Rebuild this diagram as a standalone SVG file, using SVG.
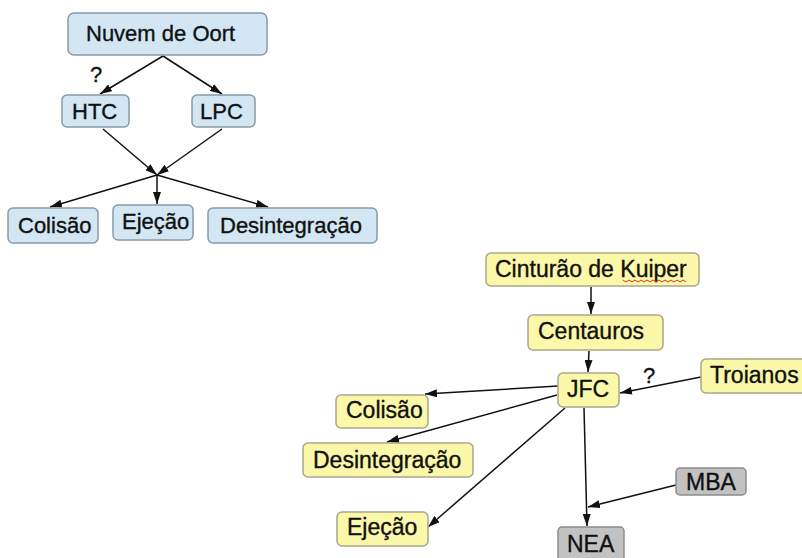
<svg xmlns="http://www.w3.org/2000/svg" width="802" height="558" viewBox="0 0 802 558">
<defs>
<marker id="ah" viewBox="0 0 12 8" refX="12" refY="4" markerWidth="12" markerHeight="8" markerUnits="userSpaceOnUse" orient="auto">
<path d="M0,0 L12,4 L0,8 Z" fill="#111"/>
</marker>
</defs>
<style>
.b{fill:#d2e7f3;stroke:#8a9aa4;stroke-width:1.5}
.y{fill:#fcf8a9;stroke:#a8a68a;stroke-width:1.5}
.g{fill:#c2c2c2;stroke:#8c8c8c;stroke-width:1.5}
text{font-family:"Liberation Sans",Arial,sans-serif;fill:#111;stroke:#111;stroke-width:0.35}
.t1{font-size:22px}
.t2{font-size:23px}
.c line,.c path{stroke:#111;stroke-width:1.5;fill:none}
</style>
<rect width="802" height="558" fill="#fff"/>
<g class="c">
<line x1="163" y1="56" x2="100" y2="94" marker-end="url(#ah)"/>
<line x1="163" y1="56" x2="222" y2="94" marker-end="url(#ah)"/>
<line x1="103" y1="129" x2="157" y2="175" marker-end="url(#ah)"/>
<line x1="222" y1="129" x2="157" y2="175" marker-end="url(#ah)"/>
<line x1="157" y1="175" x2="50" y2="207" marker-end="url(#ah)"/>
<line x1="157" y1="175" x2="157" y2="204" marker-end="url(#ah)"/>
<line x1="157" y1="175" x2="268" y2="207" marker-end="url(#ah)"/>
<line x1="591" y1="287" x2="591" y2="314" marker-end="url(#ah)"/>
<line x1="589" y1="351" x2="588" y2="372" marker-end="url(#ah)"/>
<line x1="701" y1="377" x2="620" y2="393" marker-end="url(#ah)"/>
<line x1="558" y1="386" x2="425" y2="394" marker-end="url(#ah)"/>
<line x1="557" y1="395" x2="387" y2="442" marker-end="url(#ah)"/>
<line x1="565" y1="408" x2="428" y2="527" marker-end="url(#ah)"/>
<line x1="584" y1="408" x2="587" y2="526" marker-end="url(#ah)"/>
<line x1="676" y1="485" x2="588" y2="507" marker-end="url(#ah)"/>
</g>
<text class="t1" x="90" y="82">?</text>
<text class="t1" x="643" y="383">?</text>
<g id="oort"><rect class="b" x="68" y="13" width="199" height="42" rx="6"/><text class="t1" x="86" y="41">Nuvem de Oort</text></g>
<g id="htc"><rect class="b" x="62" y="95" width="67" height="32" rx="5"/><text class="t1" x="72" y="119">HTC</text></g>
<g id="lpc"><rect class="b" x="192" y="95" width="63" height="32" rx="5"/><text class="t1" x="200" y="119">LPC</text></g>
<g id="colisao1"><rect class="b" x="8" y="208" width="90" height="35" rx="5"/><text class="t1" x="18" y="233">Colisão</text></g>
<g id="ejecao1"><rect class="b" x="113" y="205" width="80" height="35" rx="5"/><text class="t1" x="122" y="229">Ejeção</text></g>
<g id="desint1"><rect class="b" x="208" y="208" width="169" height="35" rx="5"/><text class="t1" x="220" y="233">Desintegração</text></g>
<g id="kuiper"><rect class="y" x="486" y="253" width="213" height="33" rx="5"/><text class="t2" x="495" y="277">Cinturão de Kuiper</text>
<path d="M623,280 l3,2 l3,-2 l3,2 l3,-2 l3,2 l3,-2 l3,2 l3,-2 l3,2 l3,-2 l3,2 l3,-2 l3,2 l3,-2 l3,2 l3,-2 l3,2 l3,-2 l3,2 l3,-2 l3,2" fill="none" stroke="#e03030" stroke-width="1"/></g>
<g id="centauros"><rect class="y" x="528" y="315" width="135" height="35" rx="5"/><text class="t2" x="538" y="339">Centauros</text></g>
<g id="jfc"><rect class="y" x="558" y="373" width="61" height="34" rx="5"/><text class="t2" x="567" y="397">JFC</text></g>
<g id="troianos"><rect class="y" x="701" y="359" width="110" height="34" rx="5"/><text class="t2" x="710" y="383">Troianos</text></g>
<g id="colisao2"><rect class="y" x="336" y="395" width="92" height="33" rx="5"/><text class="t2" x="346" y="418">Colisão</text></g>
<g id="desint2"><rect class="y" x="303" y="443" width="170" height="34" rx="5"/><text class="t2" x="313" y="468">Desintegração</text></g>
<g id="ejecao2"><rect class="y" x="337" y="512" width="91" height="34" rx="5"/><text class="t2" x="347" y="535">Ejeção</text></g>
<g id="mba"><rect class="g" x="676" y="468" width="70" height="27" rx="4"/><text class="t2" x="686" y="490">MBA</text></g>
<g id="nea"><rect class="g" x="558" y="527" width="66" height="40" rx="4"/><text class="t2" x="567" y="552">NEA</text></g>
</svg>
